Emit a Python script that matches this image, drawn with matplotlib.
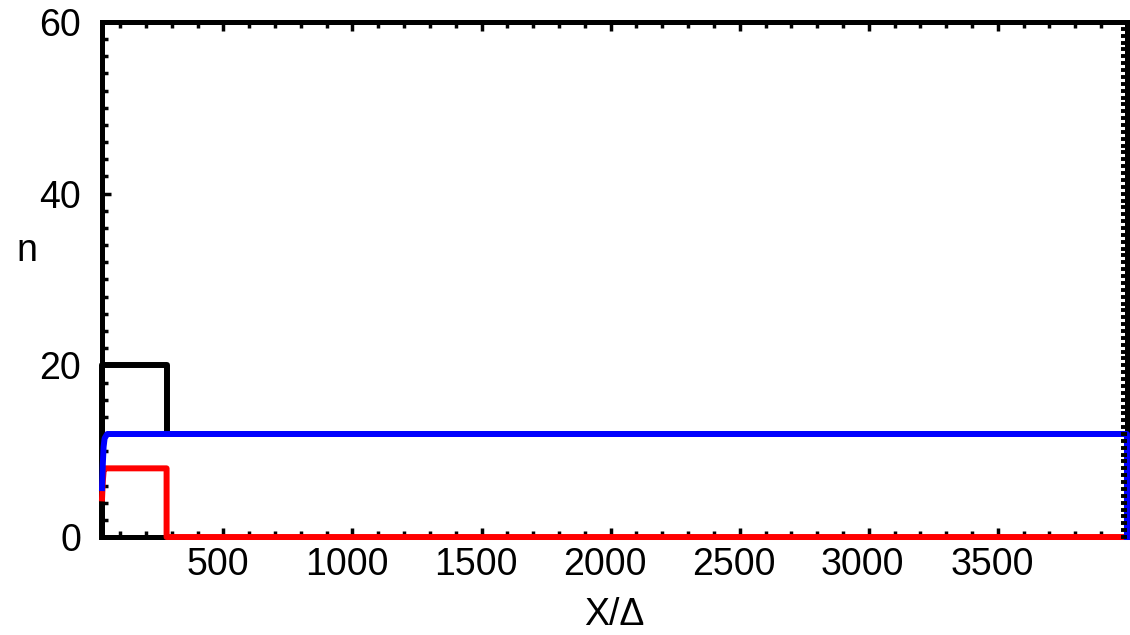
import numpy as np
import matplotlib
matplotlib.use("Agg")
import matplotlib.pyplot as plt
from matplotlib.ticker import MultipleLocator, FixedLocator
import matplotlib.transforms as mtrans

plt.rcParams['font.family'] = ['Liberation Sans', 'DejaVu Sans']

# данные (ступенчатые профили)
black_x = [30, 30, 280, 280, 4000]
black_n = [0, 20, 20, 12, 12]
red_x = [30, 33, 36, 40, 280, 280, 4000]
red_n = [4.5, 6.5, 7.6, 8, 8, 0, 0]
blue_x = [30, 33, 36, 40, 50, 4000, 4000]
blue_n = [5.7, 8.5, 10.5, 11.5, 12, 12, 0]
xticks = [500, 1000, 1500, 2000, 2500, 3000, 3500]
yticks = [0, 20, 40, 60]

fig = plt.figure(figsize=(11.3, 6.35), dpi=100)
ax = fig.add_axes([0.0903, 0.1543, 0.9070, 0.8111])
lw = 4.3
ax.plot(black_x, black_n, color='black', lw=lw, clip_on=False, zorder=3)
ax.plot(red_x, red_n, color='#ff0000', lw=lw, clip_on=False, zorder=4)
ax.plot(blue_x, blue_n, color='#0000ff', lw=lw, clip_on=False, zorder=5)

ax.set_xlim(30, 4000)
ax.set_ylim(0, 60)
ax.xaxis.set_major_locator(FixedLocator(xticks))
ax.xaxis.set_minor_locator(MultipleLocator(100))
ax.yaxis.set_major_locator(FixedLocator(yticks))
ax.yaxis.set_minor_locator(MultipleLocator(2))
ax.tick_params(which='both', direction='in', top=True, right=False, width=2.5,
               labelsize=27, color='black')
ax.tick_params(which='major', length=6.5)
ax.tick_params(which='minor', length=4.5)
ax.tick_params(axis='x', pad=7)
ax.tick_params(axis='y', pad=15)
for lab in ax.get_xticklabels():
    lab.set_transform(lab.get_transform() + mtrans.ScaledTranslation(-6/100, 0, fig.dpi_scale_trans))
for s in ax.spines.values():
    s.set_linewidth(3.6)

# правая ось: частые штрихи
rax = ax.twinx()
rax.set_ylim(0, 60)
rax.yaxis.set_major_locator(MultipleLocator(0.8))
rax.tick_params(axis='y', direction='in', length=4.5, width=2.8, labelright=False)
for s in rax.spines.values():
    s.set_visible(False)

ax.set_xlabel('X/Δ', fontsize=27, labelpad=10)
ax.set_ylabel('n', fontsize=27, rotation=0, labelpad=0)
ax.yaxis.set_label_coords(-0.073, 0.52)

fig.savefig('out.png', dpi=100)
